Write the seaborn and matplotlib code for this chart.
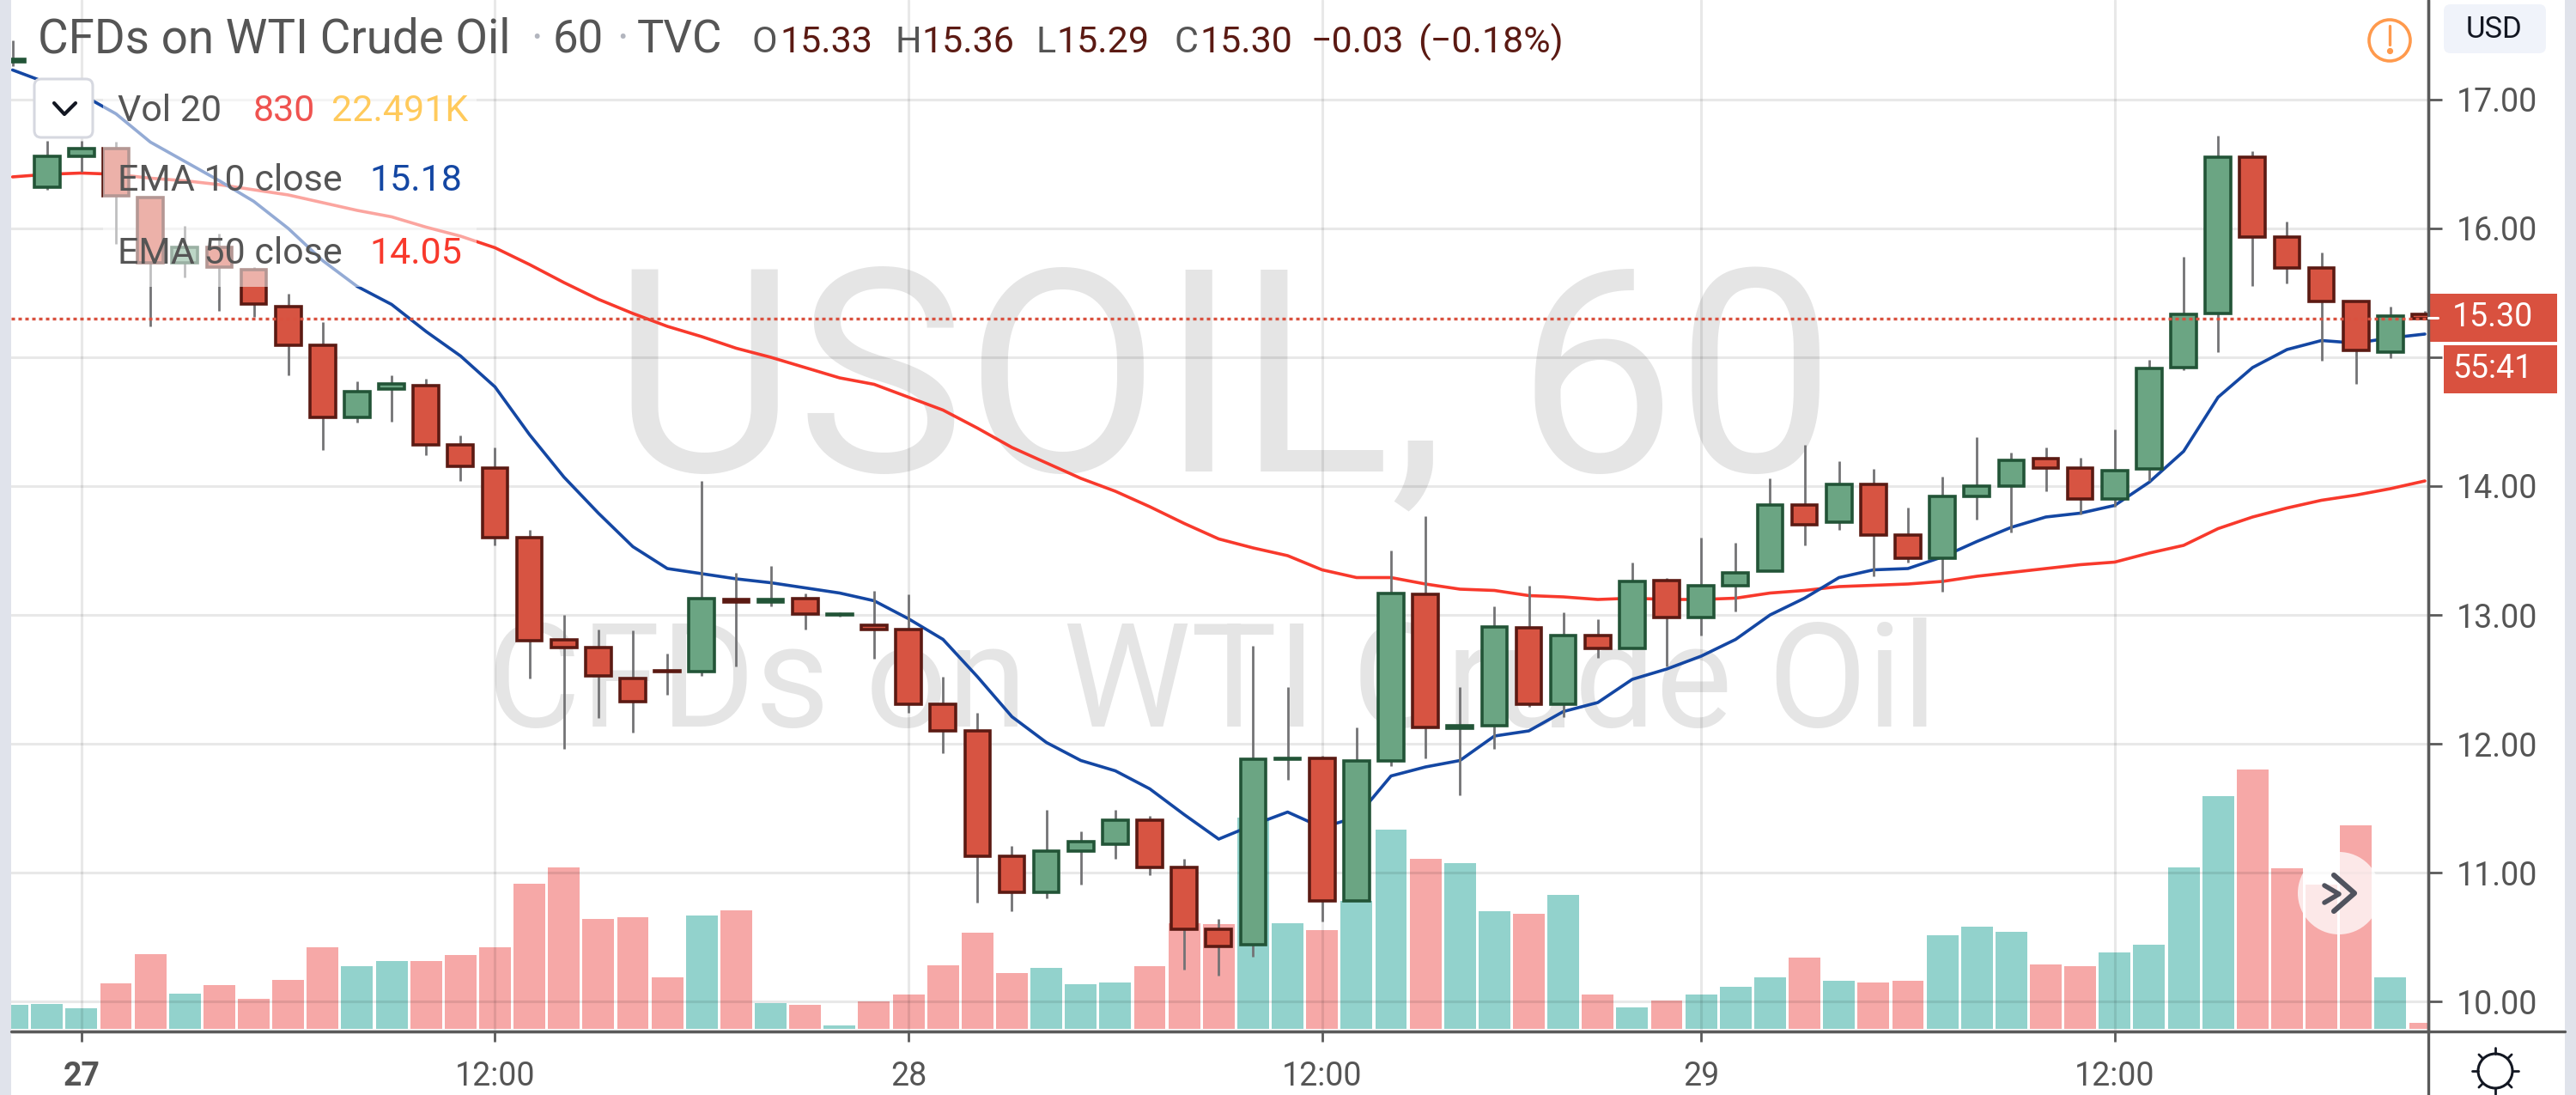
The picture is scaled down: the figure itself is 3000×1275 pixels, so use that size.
"""USOIL 60 minute candlestick chart with volume and two EMAs."""

import matplotlib

matplotlib.use("Agg")

import matplotlib.pyplot as plt
import numpy as np
import pandas as pd
import seaborn as sns
from matplotlib.patches import Circle, FancyBboxPatch, Rectangle

opens = [
  17.29, 16.32, 16.56, 16.62, 16.24, 15.73, 15.85, 15.68, 15.39, 15.09, 14.53, 14.75,
  14.78, 14.32, 14.14, 13.60, 12.81, 12.75, 12.51, 12.57, 12.56, 13.12, 13.10, 13.13,
  13.00, 12.92, 12.89, 12.31, 12.10, 11.13, 10.85, 11.17, 11.22, 11.41, 11.04, 10.56,
  10.44, 11.88, 11.89, 10.78, 11.87, 13.16, 12.12, 12.14, 12.90, 12.31, 12.84, 12.74,
  13.27, 12.98, 13.23, 13.34, 13.85, 13.72, 14.01, 13.62, 13.44, 13.92, 14.00, 14.21,
  14.14, 13.90, 14.13, 14.92, 15.34, 16.55, 15.93, 15.69, 15.43, 15.04, 15.33,
]
highs = [
  17.46, 16.68, 16.68, 16.67, 16.24, 16.02, 15.96, 15.70, 15.49, 15.27, 14.81, 14.86,
  14.83, 14.39, 14.30, 13.66, 13.00, 12.89, 12.88, 12.70, 14.04, 13.33, 13.38, 13.17,
  13.02, 13.19, 13.16, 12.52, 12.24, 11.21, 11.49, 11.32, 11.49, 11.44, 11.11, 10.64,
  12.76, 12.44, 11.91, 12.13, 13.50, 13.77, 12.44, 13.07, 13.23, 13.02, 12.97, 13.41,
  13.29, 13.60, 13.56, 14.06, 14.32, 14.19, 14.13, 13.83, 14.07, 14.38, 14.26, 14.30,
  14.22, 14.44, 14.98, 15.78, 16.72, 16.60, 16.05, 15.81, 15.44, 15.39, 15.36,
]
lows = [
  17.26, 16.30, 16.44, 15.88, 15.24, 15.62, 15.36, 15.31, 14.86, 14.28, 14.49, 14.50,
  14.24, 14.04, 13.54, 12.51, 11.96, 12.20, 12.09, 12.38, 12.53, 12.60, 13.07, 12.89,
  12.99, 12.66, 12.24, 11.93, 10.77, 10.70, 10.80, 10.91, 11.11, 10.98, 10.25, 10.20,
  10.35, 11.72, 10.62, 10.78, 11.83, 11.89, 11.60, 11.96, 12.29, 12.21, 12.67, 12.74,
  12.60, 12.84, 13.03, 13.34, 13.54, 13.66, 13.30, 13.41, 13.18, 13.74, 13.64, 13.96,
  13.78, 13.84, 14.04, 14.90, 15.04, 15.55, 15.57, 14.97, 14.79, 14.99, 15.29,
]
closes = [
  17.31, 16.56, 16.62, 16.25, 15.73, 15.85, 15.70, 15.41, 15.09, 14.53, 14.73, 14.79,
  14.32, 14.15, 13.60, 12.80, 12.75, 12.53, 12.33, 12.56, 13.13, 13.10, 13.12, 13.01,
  13.01, 12.89, 12.31, 12.10, 11.13, 10.85, 11.17, 11.24, 11.41, 11.04, 10.56, 10.43,
  11.88, 11.89, 10.78, 11.87, 13.17, 12.13, 12.14, 12.91, 12.31, 12.84, 12.74, 13.26,
  12.98, 13.23, 13.33, 13.85, 13.70, 14.01, 13.62, 13.44, 13.92, 14.00, 14.20, 14.14,
  13.90, 14.12, 14.91, 15.33, 16.55, 15.93, 15.69, 15.43, 15.05, 15.32, 15.30,
]
volumes_k = [
  6.9, 7.3, 6.0, 13.2, 21.8, 10.3, 12.8, 8.8, 14.3, 23.8, 18.3, 19.8,
  19.8, 21.4, 23.8, 42.3, 47.0, 32.0, 32.5, 15.0, 33.0, 34.5, 7.5, 6.9,
  1.0, 8.0, 10.0, 18.5, 28.0, 16.3, 17.8, 13.0, 13.5, 18.3, 30.8, 30.5,
  61.5, 30.8, 28.8, 37.3, 58.0, 49.5, 48.3, 34.3, 33.5, 39.0, 10.0, 6.3,
  8.3, 10.0, 12.3, 15.0, 20.8, 14.0, 13.5, 14.0, 27.3, 29.8, 28.3, 18.8,
  18.3, 22.3, 24.5, 47.0, 67.8, 75.5, 46.8, 42.0, 59.3, 15.0, 1.7,
]
ema_10 = [
  17.23, 17.13, 17.04, 16.89, 16.67, 16.52, 16.37, 16.21, 16.00, 15.75, 15.55, 15.41,
  15.20, 15.01, 14.77, 14.40, 14.07, 13.79, 13.53, 13.36, 13.32, 13.28, 13.25, 13.21,
  13.17, 13.11, 12.97, 12.81, 12.52, 12.21, 12.01, 11.87, 11.79, 11.65, 11.45, 11.26,
  11.37, 11.47, 11.35, 11.43, 11.75, 11.82, 11.87, 12.06, 12.10, 12.25, 12.32, 12.50,
  12.58, 12.68, 12.81, 13.00, 13.13, 13.29, 13.35, 13.36, 13.45, 13.57, 13.68, 13.76,
  13.79, 13.85, 14.03, 14.27, 14.69, 14.92, 15.06, 15.13, 15.11, 15.15, 15.18,
]
ema_50 = [
  16.40, 16.42, 16.43, 16.42, 16.39, 16.37, 16.34, 16.30, 16.26, 16.20, 16.14, 16.09,
  16.01, 15.94, 15.85, 15.72, 15.58, 15.45, 15.34, 15.24, 15.16, 15.07, 15.00, 14.92,
  14.84, 14.79, 14.69, 14.59, 14.45, 14.30, 14.18, 14.06, 13.96, 13.84, 13.71, 13.59,
  13.52, 13.46, 13.35, 13.29, 13.29, 13.24, 13.20, 13.19, 13.15, 13.14, 13.12, 13.13,
  13.12, 13.12, 13.13, 13.17, 13.19, 13.22, 13.23, 13.24, 13.26, 13.30, 13.33, 13.36,
  13.39, 13.41, 13.48, 13.54, 13.67, 13.76, 13.83, 13.89, 13.93, 13.98, 14.04,
]
price_ticks = [10, 11, 12, 13, 14, 15, 16, 17]
time_tick_bars = [2, 14, 26, 38, 49, 61]
time_tick_labels = ["27", "12:00", "28", "12:00", "29", "12:00"]
last_price = 15.30

UP_FILL, UP_EDGE = "#6ba583", "#225437"
DOWN_FILL, DOWN_EDGE = "#d75442", "#5b1a13"
TAG_RED = "#d9513f"
TEXT_GRAY = "#555555"
AXIS_GRAY = "#5a5a5a"

sns.set_style("white")
plt.rcParams["font.family"] = ["Roboto", "DejaVu Sans"]

frame = pd.DataFrame({
  "bar": np.arange(len(closes)),
  "open": opens,
  "high": highs,
  "low": lows,
  "close": closes,
  "volume": volumes_k,
  "ema_10": ema_10,
  "ema_50": ema_50,
})
frame["direction"] = np.where(frame["close"] >= frame["open"], "up", "down")

fig = plt.figure(figsize=(15, 6.375), dpi=200, facecolor="white")
ax = fig.add_axes([13 / 3000, 74 / 1275, 2815 / 3000, 1201 / 1275])
vol_ax = ax.twinx()

sns.barplot(
  data=frame, x="bar", y="volume", hue="direction",
  palette={"up": "#26a69a", "down": "#ef5350"}, dodge=False, native_scale=True,
  width=0.92, alpha=0.5, saturation=1, linewidth=0, legend=False, ax=vol_ax,
)
vol_ax.set_ylim(-0.75, 299.5)
vol_ax.set_axis_off()

ax.set_zorder(2)
vol_ax.set_zorder(1)
ax.patch.set_visible(False)

ax.text(0.5017, 0.543, "USOIL, 60", transform=ax.transAxes, ha="center", va="baseline",
        fontsize=119, color="black", alpha=0.1, zorder=1)
ax.text(0.497, 0.296, "CFDs on WTI Crude Oil", transform=ax.transAxes, ha="center", va="baseline",
        fontsize=60.5, color="black", alpha=0.1, zorder=1)

sns.lineplot(data=frame, x="bar", y="ema_50", color="#f8392c", linewidth=1.3, ax=ax, zorder=2)
sns.lineplot(data=frame, x="bar", y="ema_10", color="#1447a3", linewidth=1.3, ax=ax, zorder=2)

body_low = frame[["open", "close"]].min(axis=1)
body_high = frame[["open", "close"]].max(axis=1)
is_up = frame["direction"] == "up"
ax.vlines(frame["bar"], frame["low"], frame["high"], color="#737375", linewidth=1.0, zorder=3)
ax.bar(
  frame["bar"], body_high - body_low, bottom=body_low, width=0.74,
  color=np.where(is_up, UP_FILL, DOWN_FILL), edgecolor=np.where(is_up, UP_EDGE, DOWN_EDGE),
  linewidth=1.3, zorder=4,
)
ax.axhline(last_price, color=TAG_RED, linewidth=1.2, linestyle=(0, (1.2, 1.2)), zorder=5)

ax.set_xlim(-0.04, 70.1)
ax.set_ylim(9.767, 17.773)
ax.set_xlabel("")
ax.set_ylabel("")
ax.grid(True, color="black", alpha=0.09, linewidth=1.1)
ax.set_axisbelow(True)
ax.set_xticks(time_tick_bars)
ax.set_xticklabels(time_tick_labels)
ax.set_yticks(price_ticks)
ax.set_yticklabels([f"{p:.2f}" for p in price_ticks])
ax.yaxis.tick_right()
ax.tick_params(axis="y", length=5.8, width=1, color=AXIS_GRAY, labelsize=13.5, labelcolor=TEXT_GRAY, pad=6, right=True)
ax.tick_params(axis="x", length=4.3, width=1, color=AXIS_GRAY, labelsize=13.5, labelcolor=TEXT_GRAY, pad=8, bottom=True)
ax.get_xticklabels()[0].set_fontweight("bold")
for name, spine in ax.spines.items():
  spine.set_visible(name in ("right", "bottom"))
  spine.set_color(AXIS_GRAY)
  spine.set_linewidth(1.2)

# everything below is the platform chrome, placed in image pixels
ui = fig.add_axes([0, 0, 1, 1], zorder=10)
ui.set_xlim(0, 3000)
ui.set_ylim(1275, 0)
ui.set_axis_off()
ui.patch.set_visible(False)

ui.add_patch(Rectangle((0, 0), 13, 1275, color="#e0e3eb", lw=0))
ui.add_patch(Rectangle((2987, 0), 13, 1275, color="#e0e3eb", lw=0))
ui.plot([13, 2987], [1201, 1201], color=AXIS_GRAY, lw=1.2)
ui.plot([2828, 2828], [0, 1275], color=AXIS_GRAY, lw=1.2)

# faded strip behind the study legend
ui.add_patch(Rectangle((120, 100), 435, 234, color="white", alpha=0.55, lw=0))
ui.add_patch(FancyBboxPatch((44, 96), 60, 60, boxstyle="round,pad=4,rounding_size=8",
                            facecolor="white", edgecolor="#d6d8e0", lw=1.1))
ui.plot([63, 75, 88], [120, 133, 120], color="#131722", lw=1.5)


def label(x, y, text, color=TEXT_GRAY, size=15.5, **kwargs):
  ui.text(x, y, text, color=color, fontsize=size, va="baseline", **kwargs)


label(44, 61, "CFDs on WTI Crude Oil", size=19.7)
label(618, 61, "·", color="#b2b5be", size=19)
label(644, 61, "60", size=19)
label(718, 61, "·", color="#b2b5be", size=19)
label(742, 61, "TVC", size=19)

value_red = "#5b1a13"
for x, head, value, offset in [(876, "O", "15.33", 32), (1042, "H", "15.36", 31), (1207, "L", "15.29", 23), (1367, "C", "15.30", 30)]:
  label(x, 61, head)
  label(x + offset, 61, value, color=value_red)
label(1526, 61, "−0.03", color=value_red)
label(1651, 61, "(−0.18%)", color=value_red)

label(137, 141, "Vol 20")
label(295, 141, "830", color="#ef5350")
label(386, 141, "22.491K", color="#ffca5c")
label(137, 222, "EMA 10 close")
label(430, 222, "15.18", color="#1447a3")
label(137, 307, "EMA 50 close")
label(430, 307, "14.05", color="#f8392c")

# price tags
ui.add_patch(Rectangle((2828, 342), 150, 56, color=TAG_RED, lw=0))
ui.add_patch(Rectangle((2846, 402), 132, 56, color=TAG_RED, lw=0))
ui.plot([2828, 2839], [370, 370], color="white", lw=1.1)
ui.text(2903, 370, f"{last_price:.2f}", color="white", fontsize=13.5, ha="center", va="center")
ui.text(2903, 430, "55:41", color="white", fontsize=13.5, ha="center", va="center")

# USD badge and warning icon
ui.add_patch(FancyBboxPatch((2852, 11), 107, 45, boxstyle="round,pad=6,rounding_size=8",
                            facecolor="#f0f3fa", edgecolor="none"))
ui.text(2905, 34, "USD", color="#131722", fontsize=12.5, ha="center", va="center")
ui.add_patch(Circle((2783, 47), 24, facecolor="white", edgecolor="#ff9a4d", lw=1.3))
ui.plot([2783, 2783], [30, 52], color="#ff9a4d", lw=1.2)
ui.plot([2783], [59], marker="o", markersize=1.6, color="#ff9a4d")

# scroll to latest button
ui.add_patch(Circle((2724, 1040), 48, facecolor="white", edgecolor="none", alpha=0.75))
ui.plot([2707, 2724, 2707], [1031, 1041, 1051], color="#50535e", lw=2.0)
ui.plot([2718, 2742, 2718], [1019, 1040, 1061], color="#50535e", lw=2.2)

# settings gear
ui.add_patch(Circle((2906, 1247), 20, facecolor="white", edgecolor="#131722", lw=1.1))
for angle in np.deg2rad(np.arange(0, 360, 45)):
  ui.plot([2906 + 20 * np.cos(angle), 2906 + 27 * np.cos(angle)],
          [1247 + 20 * np.sin(angle), 1247 + 27 * np.sin(angle)], color="#131722", lw=1.0)

fig.savefig("out.png", dpi=200)
plt.close(fig)
